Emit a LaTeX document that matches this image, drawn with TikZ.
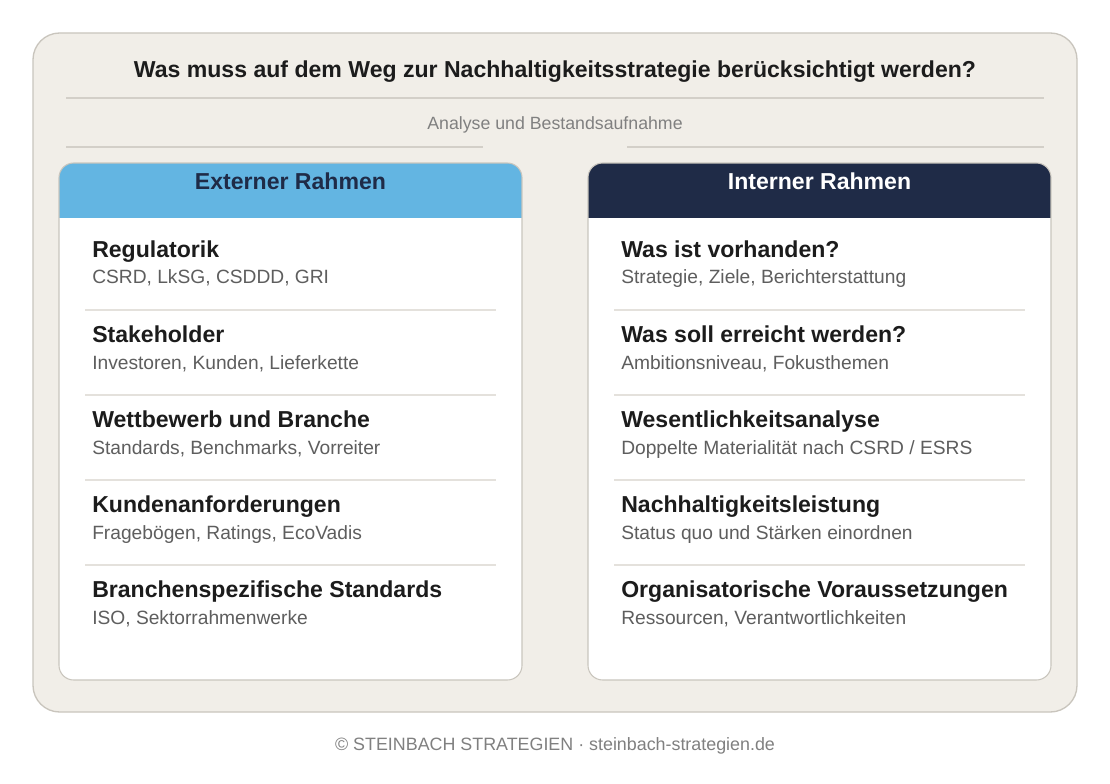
\documentclass[tikz,border=0pt]{standalone}
\usepackage{fontspec}
\setmainfont{Liberation Sans}
\definecolor{paper}{HTML}{F1EEE8}
\definecolor{frame}{HTML}{C9C5BD}
\definecolor{skyblue}{HTML}{63B5E2}
\definecolor{navy}{HTML}{1F2B47}
\definecolor{ink}{HTML}{1C1C1C}
\definecolor{subgray}{HTML}{5E5E5E}
\definecolor{rule}{HTML}{E4E1DC}
\definecolor{hairline}{HTML}{D3CFC8}

\tikzset{
  itemtitle/.style = {anchor = base west, inner sep = 0pt, text = ink, font = \fontsize{17.3}{20}\selectfont\bfseries},
  itemtext/.style  = {anchor = base west, inner sep = 0pt, text = subgray, font = \fontsize{14.4}{17}\selectfont},
  header/.style    = {anchor = base, inner sep = 0pt, font = \fontsize{17.3}{20}\selectfont\bfseries},
  card/.style      = {rounded corners = 11pt, draw = frame, line width = 0.8pt}
}

\begin{document}
\begin{tikzpicture}[x = 0.75pt, y = -0.75pt]
\useasboundingbox (0,0) rectangle (1110,784);
\fill [white] (0,0) rectangle (1110,784);

% outer panel
\draw [rounded corners = 20pt, fill = paper, draw = frame, line width = 1pt] (33,33) rectangle (1077,712);

\node [anchor = base, inner sep = 0pt] (title) at (555,78) {\fontsize{17.3}{20}\selectfont\bfseries\color{ink}Was muss auf dem Weg zur Nachhaltigkeitsstrategie berücksichtigt werden?};
\draw [hairline, line width = 1pt] (66,98) -- (1044,98);
\node [anchor = base, inner sep = 0pt] (ana) at (555,130) {\fontsize{13.3}{16}\selectfont\color{gray}Analyse und Bestandsaufnahme};
\draw [hairline, line width = 1pt] (66,147) -- (483,147);
\draw [hairline, line width = 1pt] (627,147) -- (1044,147);

% cards
\fill [white, rounded corners = 11pt] (59,163) rectangle (522,680);
\fill [white, rounded corners = 11pt] (588,163) rectangle (1051,680);
\begin{scope}
\clip [rounded corners = 11pt] (59,163) rectangle (522,680);
\fill [skyblue] (59,163) rectangle (522,218);
\end{scope}
\begin{scope}
\clip [rounded corners = 11pt] (588,163) rectangle (1051,680);
\fill [navy] (588,163) rectangle (1051,218);
\end{scope}
\draw [card] (59,163) rectangle (522,680);
\draw [card] (588,163) rectangle (1051,680);
\node [header, text = navy] (ext) at (290.5,190) {Externer Rahmen};
\node [header, text = white] (int) at (819.5,190) {Interner Rahmen};

% left column
\node [itemtitle] (e1) at (92,257.5) {Regulatorik};
\node [itemtext] (e1t) at (92,284) {CSRD, LkSG, CSDDD, GRI};
\draw [rule, line width = 1pt] (85,310) -- (496,310);
\node [itemtitle] (e2) at (92,342.5) {Stakeholder};
\node [itemtext] (e2t) at (92,369) {Investoren, Kunden, Lieferkette};
\draw [rule, line width = 1pt] (85,395) -- (496,395);
\node [itemtitle] (e3) at (92,427.5) {Wettbewerb und Branche};
\node [itemtext] (e3t) at (92,454) {Standards, Benchmarks, Vorreiter};
\draw [rule, line width = 1pt] (85,480) -- (496,480);
\node [itemtitle] (e4) at (92,512.5) {Kundenanforderungen};
\node [itemtext] (e4t) at (92,539) {Fragebögen, Ratings, EcoVadis};
\draw [rule, line width = 1pt] (85,565) -- (496,565);
\node [itemtitle] (e5) at (92,597.5) {Branchenspezifische Standards};
\node [itemtext] (e5t) at (92,624) {ISO, Sektorrahmenwerke};

% right column
\node [itemtitle] (i1) at (621,257.5) {Was ist vorhanden?};
\node [itemtext] (i1t) at (621,284) {Strategie, Ziele, Berichterstattung};
\draw [rule, line width = 1pt] (614,310) -- (1025,310);
\node [itemtitle] (i2) at (621,342.5) {Was soll erreicht werden?};
\node [itemtext] (i2t) at (621,369) {Ambitionsniveau, Fokusthemen};
\draw [rule, line width = 1pt] (614,395) -- (1025,395);
\node [itemtitle] (i3) at (621,427.5) {Wesentlichkeitsanalyse};
\node [itemtext] (i3t) at (621,454) {Doppelte Materialität nach CSRD / ESRS};
\draw [rule, line width = 1pt] (614,480) -- (1025,480);
\node [itemtitle] (i4) at (621,512.5) {Nachhaltigkeitsleistung};
\node [itemtext] (i4t) at (621,539) {Status quo und Stärken einordnen};
\draw [rule, line width = 1pt] (614,565) -- (1025,565);
\node [itemtitle] (i5) at (621,597.5) {Organisatorische Voraussetzungen};
\node [itemtext] (i5t) at (621,624) {Ressourcen, Verantwortlichkeiten};

\node [anchor = base, inner sep = 0pt] (foot) at (555,750) {\fontsize{13.4}{16}\selectfont\color{gray}© STEINBACH STRATEGIEN · steinbach-strategien.de};
\end{tikzpicture}
\end{document}
